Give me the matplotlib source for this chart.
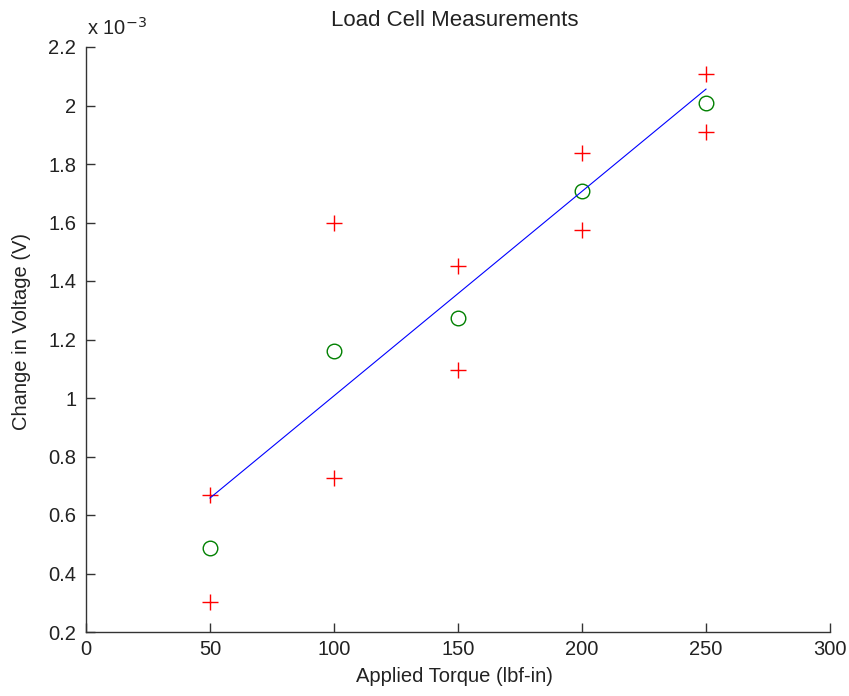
import matplotlib.pyplot as plt
import numpy as np

plt.rcParams['font.family'] = ['Liberation Sans', 'DejaVu Sans']

# applied torque (lbf-in)
torque = [50, 100, 150, 200, 250]
# change in voltage, units of 1e-3 V
meas_high = [0.668, 1.597, 1.450, 1.837, 2.108]
meas_low = [0.303, 0.727, 1.097, 1.573, 1.909]
meas_mean = [0.487, 1.162, 1.272, 1.707, 2.009]
# fitted line end points
fit_x = [50, 250]
fit_y = [0.658, 2.056]

W, H = 849, 696
fig = plt.figure(figsize=(W / 100, H / 100), dpi=100)
ax = fig.add_axes([86 / W, 1 - 632 / H, 744 / W, 585 / H])

ax.plot(torque, meas_high, '+', color='red', markersize=11, markeredgewidth=1.0)
ax.plot(torque, meas_low, '+', color='red', markersize=11, markeredgewidth=1.0)
ax.plot(torque, meas_mean, 'o', color=(0, 0.5, 0), markerfacecolor='none',
        markersize=10.5, markeredgewidth=1.0)
ax.plot(fit_x, fit_y, '-', color='blue', linewidth=0.8)

ax.set_xlim(0, 300)
ax.set_ylim(0.2, 2.2)
ax.set_xticks(np.arange(0, 301, 50))
ax.set_yticks(np.arange(0.2, 2.21, 0.2))
ax.yaxis.set_major_formatter(plt.FormatStrFormatter('%g'))
ax.spines['top'].set_visible(False)
ax.spines['right'].set_visible(False)
for s in ['left', 'bottom']:
    ax.spines[s].set_color('#333333')
    ax.spines[s].set_linewidth(1.0)
ax.tick_params(direction='in', length=6.5, width=1.0, colors='#333333',
               labelsize=14.5, labelcolor='#222222')
ax.tick_params(axis='x', pad=6)
ax.tick_params(axis='y', pad=7)

fig.text(87 / W, 1 - 35 / H, 'x 10$^{-3}$', fontsize=14.5, color='#222222',
         va='baseline', ha='left')
fig.text(455 / W, 1 - 21 / H, 'Load Cell Measurements', fontsize=16,
         color='#222222', ha='center', va='center')
ax.set_xlabel('Applied Torque (lbf-in)', fontsize=14.5, color='#222222')
ax.set_ylabel('Change in Voltage (V)', fontsize=14.5, color='#222222')
ax.xaxis.set_label_coords((454 - 86) / 744, (632 - 677) / 585)
ax.xaxis.label.set_va('center')
ax.yaxis.set_label_coords((22 - 86) / 744, (632 - 331) / 585)
ax.yaxis.label.set_va('center')

fig.savefig('out.png', dpi=100)
